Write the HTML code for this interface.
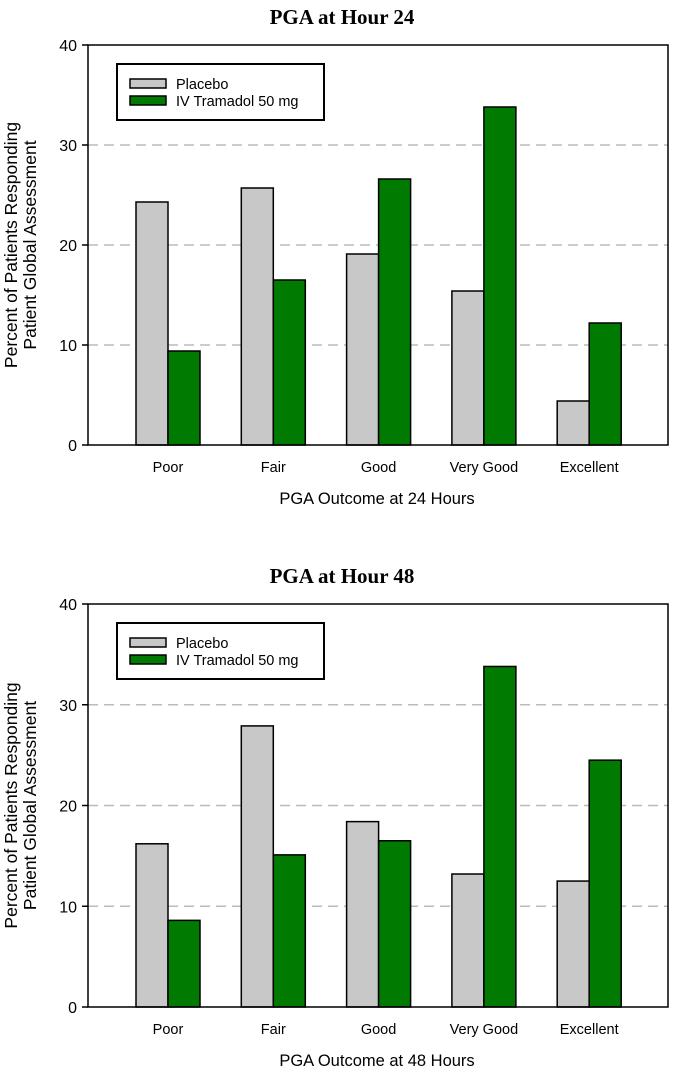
<!DOCTYPE html>
<html><head><meta charset="utf-8"><style>
body{margin:0;background:#fff;width:685px;height:1077px;overflow:hidden}
svg{display:block;font-family:"Liberation Sans",Arial,sans-serif}
</style></head><body>
<svg id="s" width="685" height="1077" viewBox="0 0 685 1077"></svg>
<script>
const categories=["Poor","Fair","Good","Very Good","Excellent"];
const placebo24=[24.3,25.7,19.1,15.4,4.4];
const tramadol24=[9.4,16.5,26.6,33.8,12.2];
const placebo48=[16.2,27.9,18.4,13.2,12.5];
const tramadol48=[8.6,15.1,16.5,33.8,24.5];
const yTicks=[0,10,20,30,40];
const seriesNames=["Placebo","IV Tramadol 50 mg"];
const NS="http://www.w3.org/2000/svg";
const svg=document.getElementById('s');
function mk(tag,attrs,parent,text){const e=document.createElementNS(NS,tag);for(const k in attrs)e.setAttribute(k,attrs[k]);if(text!==undefined)e.textContent=text;(parent||svg).appendChild(e);return e;}
function chart(top,bottom,title,xtitle,pl,tr,key){
  const g=mk('g',{});
  
  
  const L=88,R=668;
  const y=v=>bottom-(v/40)*(bottom-top);
  const x=i=>168+i*105.3;
  const t=mk('text',{x:342,y:top-21,'text-anchor':'middle','font-family':'Liberation Serif,serif','font-weight':'bold','font-size':21},g,title);
  
  
  yTicks.forEach(v=>{
    if(v>0&&v<40){const gl=mk('line',{x1:L,x2:R,y1:y(v),y2:y(v),stroke:'#bbb','stroke-width':1.5,'stroke-dasharray':'10,6'},g);
      
      }
    mk('line',{x1:L-6,x2:L,y1:y(v),y2:y(v),stroke:'#000','stroke-width':1.5},g);
    const tl=mk('text',{x:L-11,y:y(v)+6,'text-anchor':'end','font-size':16},g,String(v));
    
    
  });
  categories.forEach((c,i)=>{
    const bw=32;
    const b1=mk('rect',{x:x(i)-bw,y:y(pl[i]),width:bw,height:bottom-y(pl[i]),fill:'#c8c8c8',stroke:'#000','stroke-width':1.5},g);
    
    
    const b2=mk('rect',{x:x(i),y:y(tr[i]),width:bw,height:bottom-y(tr[i]),fill:'#007a00',stroke:'#000','stroke-width':1.5},g);
    
    
    const cl=mk('text',{x:x(i),y:bottom+27,'text-anchor':'middle','font-size':14.5},g,c);
    
    
  });
  mk('rect',{x:L,y:top,width:R-L,height:bottom-top,fill:'none',stroke:'#000','stroke-width':1.5},g);
  const xt=mk('text',{x:377,y:bottom+59,'text-anchor':'middle','font-size':16.5},g,xtitle);
  
  
  const yt=mk('text',{transform:`translate(17,${(top+bottom)/2}) rotate(-90)`,'text-anchor':'middle','font-size':17.5},g);
  
  
  mk('tspan',{x:0,dy:0},yt,'Percent of Patients Responding');
  mk('tspan',{x:0,dy:19},yt,'Patient Global Assessment');
  const lg=mk('g',{},g);
  
  
  const ly=top+19;
  mk('rect',{x:117,y:ly,width:207,height:56,fill:'#fff',stroke:'#000','stroke-width':2},lg);
  [['#c8c8c8',seriesNames[0]],['#007a00',seriesNames[1]]].forEach((s,k)=>{
    const e=mk('g',{},lg);
    
    
    mk('rect',{x:130,y:ly+15+k*17,width:36,height:9,fill:s[0],stroke:'#000','stroke-width':1.5},e);
    mk('text',{x:176,y:ly+25+k*17,'font-size':14.5},e,s[1]);
  });
}
chart(45,445,'PGA at Hour 24','PGA Outcome at 24 Hours',placebo24,tramadol24,'hour24');
chart(604,1007,'PGA at Hour 48','PGA Outcome at 48 Hours',placebo48,tramadol48,'hour48');
</script>
</body></html>
